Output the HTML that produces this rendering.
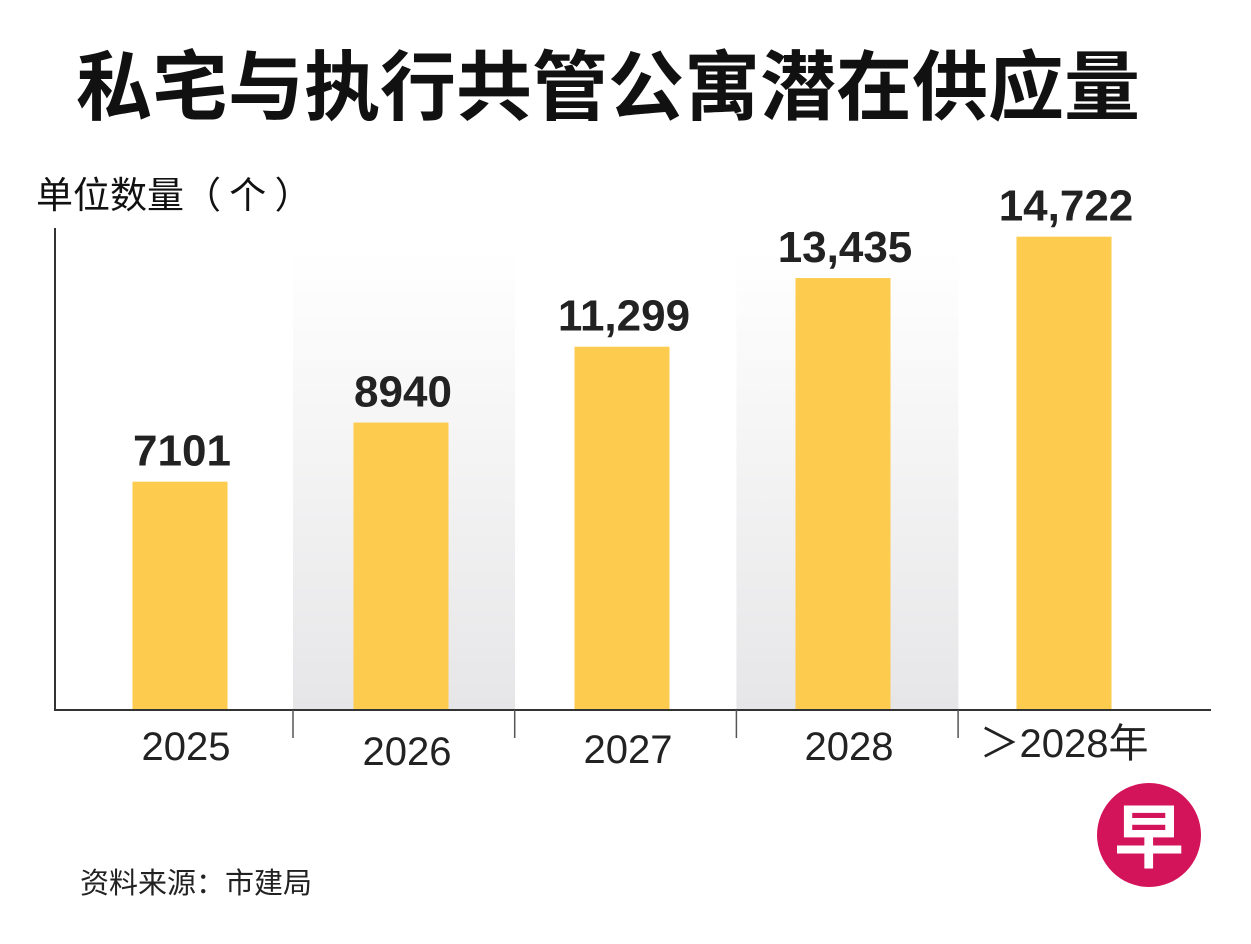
<!DOCTYPE html>
<html><head><meta charset="utf-8">
<style>
body{margin:0;width:1251px;height:944px;background:#fff;overflow:hidden;font-family:"Liberation Sans","Noto Sans CJK SC",sans-serif;}
svg{display:block}
</style></head>
<body>
<svg width="1251" height="944">
<defs>
<linearGradient id="g" x1="0" y1="0" x2="0" y2="1">
<stop offset="0" stop-color="#fff"/><stop offset="1" stop-color="#e6e6e8"/>
</linearGradient>
</defs>
<text x="608" y="114" text-anchor="middle" font-size="76" font-weight="bold" fill="#111" font-family="'Noto Sans CJK SC',sans-serif">私宅与执行共管公寓潜在供应量</text>
<text x="36" y="208" font-size="37" fill="#111" font-family="'Noto Sans CJK SC',sans-serif">单位数量（ 个 ）</text>
<g id="bg"></g>
<g id="bars"></g>
<line x1="55" y1="228" x2="55" y2="711" stroke="#333" stroke-width="2"/>
<line x1="54" y1="710" x2="1211" y2="710" stroke="#333" stroke-width="2"/>
<g id="ticks"></g>
<text x="80" y="893" font-size="29" fill="#222" font-family="'Noto Sans CJK SC',sans-serif">资料来源：市建局</text>
<g>
<circle cx="1149" cy="835" r="52" fill="#d4145a"/>
<text x="1149" y="862" text-anchor="middle" font-size="70" font-weight="bold" fill="#fff" font-family="'Noto Sans CJK SC',sans-serif">早</text>
</g>
</svg>
<script>
const categories=["2025","2026","2027","2028","＞2028年"];
const values=[7101,8940,11299,13435,14722];
const valueLabels=["7101","8940","11,299","13,435","14,722"];
const ns="http://www.w3.org/2000/svg";
const base=710,k=0.03215;
function xc(i){return 180+i*221;}
function y(v){return base-v*k;}
function tickX(i){return 293+(i-1)*221.7;}
const bg=document.getElementById('bg'),bars=document.getElementById('bars'),ticks=document.getElementById('ticks');
[1,3].forEach(i=>{
const r=document.createElementNS(ns,'rect');
r.setAttribute('x',tickX(i));r.setAttribute('y',250);r.setAttribute('width',222);r.setAttribute('height',base-250);r.setAttribute('fill','url(#g)');


bg.appendChild(r);});
const labelY=[745,750,748,745,742];
categories.forEach((c,i)=>{
const r=document.createElementNS(ns,'rect');
r.setAttribute('x',xc(i)-47.5);r.setAttribute('y',y(values[i]));r.setAttribute('width',95);r.setAttribute('height',base-y(values[i]));r.setAttribute('fill','#fdcb4d');


bars.appendChild(r);
const t=document.createElementNS(ns,'text');
t.setAttribute('x',xc(i)+2);t.setAttribute('y',y(values[i])-16);t.setAttribute('text-anchor','middle');t.setAttribute('font-size','44');t.setAttribute('font-weight','bold');t.setAttribute('fill','#222');
t.textContent=valueLabels[i];


bars.appendChild(t);
const l=document.createElementNS(ns,'text');
l.setAttribute('x',xc(i)+(i==4?0:6));l.setAttribute('y',labelY[i]+15);l.setAttribute('text-anchor','middle');l.setAttribute('font-size','40');l.setAttribute('fill','#222');
l.textContent=c;


ticks.appendChild(l);
if(i>0){const ln=document.createElementNS(ns,'line');
const tx=tickX(i);
ln.setAttribute('x1',tx);ln.setAttribute('x2',tx);ln.setAttribute('y1',710);ln.setAttribute('y2',738);ln.setAttribute('stroke','#555');ln.setAttribute('stroke-width','1.5');


ticks.appendChild(ln);}
});
</script>
</body></html>
